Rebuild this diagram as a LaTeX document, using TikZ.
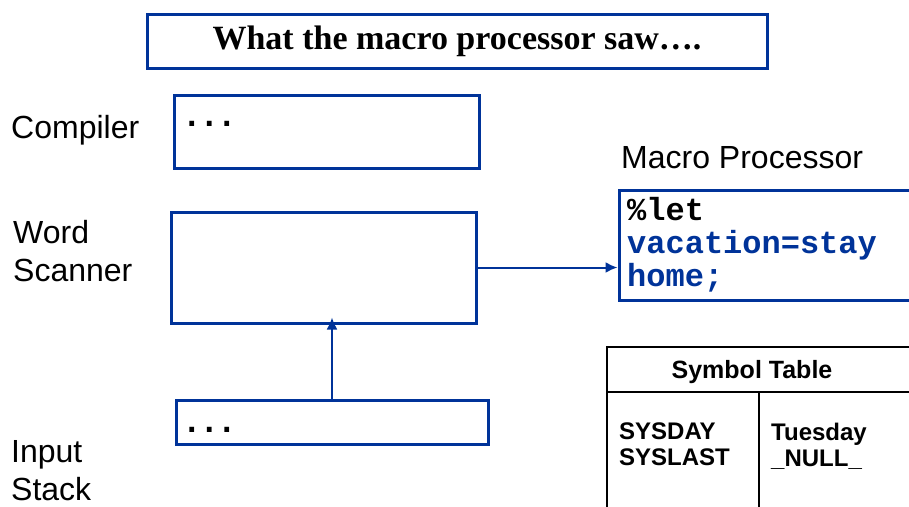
\documentclass[tikz,border=0pt]{standalone}
\usepackage{fontspec}
\setmainfont{Liberation Sans}
\setmonofont{Liberation Mono}
\newfontfamily\titlefont{Liberation Serif}
\newfontfamily\dotsfont{DejaVu Sans Mono}
\usetikzlibrary{positioning,arrows.meta}
\definecolor{sasblue}{RGB}{0,51,153}
\tikzset{
  stagebox/.style={draw=sasblue, line width=3pt, inner sep=0pt},
  stagelabel/.style={anchor=west, align=left, inner sep=0pt,
    font=\fontsize{32}{38}\selectfont},
  dotsline/.style={anchor=base west, inner sep=0pt,
    font=\fontsize{29}{29}\selectfont\dotsfont\bfseries},
  feed/.style={draw=sasblue, line width=2pt, -{Latex[length=12pt,width=11pt]}},
  tabletext/.style={anchor=north west, align=left, inner sep=0pt,
    font=\fontsize{24}{26}\selectfont\bfseries}
}
\begin{document}
\begin{tikzpicture}[x=1pt,y=-1pt]
    \useasboundingbox (0,0) rectangle (909,506);
    \clip (0,0) rectangle (909,506);
    % Title
    \node (title) [stagebox, minimum width=620pt, minimum height=54pt,
        font=\fontsize{34}{34}\selectfont\titlefont\bfseries]
        at (457,41) {What the macro processor saw\dots.};
    % Stages on the left
    \node (compiler) [stagebox, minimum width=305pt, minimum height=73pt] at (326.5,131.5) {};
    \node (scanner) [stagebox, minimum width=305pt, minimum height=111pt] at (323.5,267.5) {};
    \node (stack) [stagebox, minimum width=312pt, minimum height=44pt] at (332,422) {};
    \node (compilerdots) [dotsline] at (183,126) {...};
    \node (stackdots) [dotsline] at (183,432) {...};
    \node (compilerlbl) [stagelabel] at (11,130) {Compiler};
    \node (scannerlbl) [stagelabel] at (13,251) {Word\\Scanner};
    \node (stacklbl) [stagelabel] at (11,471) {Input\\Stack};
    % Macro processor
    \node (macrolbl) [stagelabel] at (621,158) {Macro Processor};
    \node (macro) [stagebox, minimum width=330pt, minimum height=110pt] at (784,245) {};
    \node (code) [anchor=north west, align=left, inner sep=0pt,
        font=\fontsize{32}{33}\selectfont\ttfamily\bfseries]
        at (627,197) {\%let\\\textcolor{sasblue}{vacation=stay}\\\textcolor{sasblue}{home;}};
    % Symbol table
    \node (symtab) [draw=black, line width=2pt, inner sep=0pt,
        minimum width=360pt, minimum height=200pt] at (787,447) {};
    \coordinate (headl) at (607,392);
    \coordinate (headr) at (930,392);
    \coordinate (divtop) at (759,392);
    \coordinate (divbot) at (759,520);
    \draw[line width=2pt] (headl) -- (headr);
    \draw[line width=2pt] (divtop) -- (divbot);
    \node (symhead) [inner sep=0pt, font=\fontsize{25}{25}\selectfont\bfseries] at (752,372) {Symbol Table};
    \node (symnames) [tabletext] at (619,423) {SYSDAY\\SYSLAST};
    \node (symvals) [tabletext] at (771,423) {Tuesday\\\_NULL\_};
    % Connectors
    \draw[feed] (stack.north) -- ([yshift=7pt]stack.north |- scanner.south);
    \draw[feed] (scanner.east) -- (scanner.east -| macro.west);
\end{tikzpicture}
\end{document}
